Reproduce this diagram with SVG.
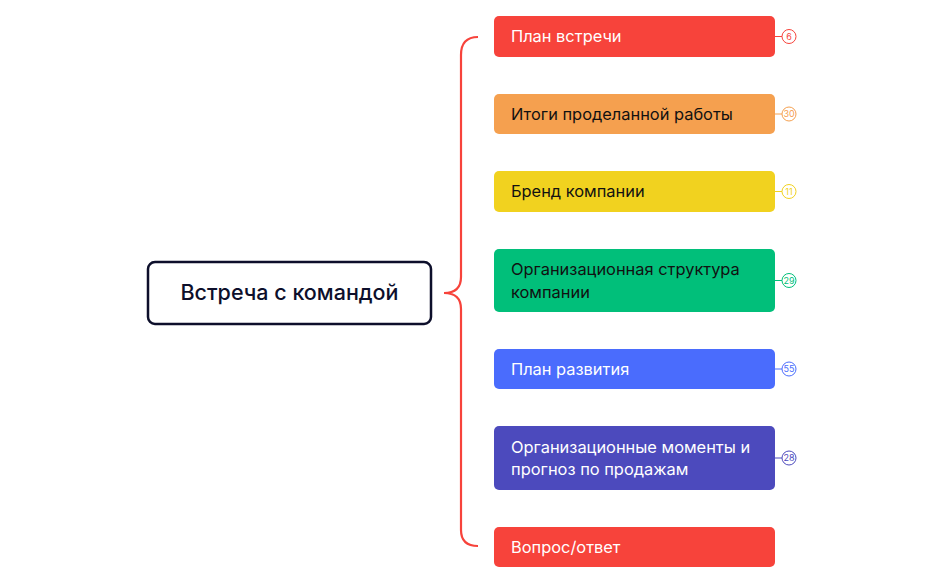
<svg xmlns="http://www.w3.org/2000/svg" width="943" height="584" viewBox="0 0 943 584">
<style>
.t{font-family:Inter,"Liberation Sans",sans-serif;font-size:16.4px}
.n{font-family:Inter,"Liberation Sans",sans-serif;font-size:9px;text-anchor:middle}
.c{fill:#fff;stroke-width:1}
</style>
<rect width="943" height="584" fill="#fff"/>
<g id="connectors" fill="none" stroke="#f7433b" stroke-width="2.2">
<path d="M478 37 Q461 37 461 55 L461 277 Q461 293 444 293 Q461 293 461 309 L461 530 Q461 546 478 546"/>
</g>
<g id="root"><rect x="148" y="262" width="283" height="62" rx="7" fill="#fff" stroke="#0d0f2b" stroke-width="2.5"/>
<text x="289.5" y="300" text-anchor="middle" fill="#0d0f2b" style="font-family:Inter,'Liberation Sans',sans-serif;font-size:21.5px;font-weight:500">Встреча с командой</text></g>
<g id="n1"><rect x="494" y="16" width="281" height="41" rx="5" fill="#f7433b"/><text x="511" y="42" class="t" fill="#fff">План встречи</text>
<line x1="775" y1="36.5" x2="782" y2="36.5" stroke="#f7433b"/><circle cx="789" cy="36.5" r="7" class="c" stroke="#f7433b"/><text x="789" y="39.5" class="n" fill="#f7433b">6</text></g>
<g id="n2"><rect x="494" y="94" width="281" height="40" rx="5" fill="#f5a04f"/><text x="511" y="120" class="t" fill="#111">Итоги проделанной работы</text>
<line x1="775" y1="114" x2="782" y2="114" stroke="#f5a04f"/><circle cx="789" cy="114" r="7" class="c" stroke="#f5a04f"/><text x="789" y="117" class="n" fill="#f5a04f">30</text></g>
<g id="n3"><rect x="494" y="171" width="281" height="41" rx="5" fill="#f1d21f"/><text x="511" y="197" class="t" fill="#111">Бренд компании</text>
<line x1="775" y1="191.5" x2="782" y2="191.5" stroke="#f1d21f"/><circle cx="789" cy="191.5" r="7" class="c" stroke="#f1d21f"/><text x="789" y="194.5" class="n" fill="#f1d21f">11</text></g>
<g id="n4"><rect x="494" y="249" width="281" height="63" rx="5" fill="#01bf7a"/><text x="511" y="275" class="t" fill="#111">Организационная структура</text><text x="511" y="298" class="t" fill="#111">компании</text>
<line x1="775" y1="280.5" x2="782" y2="280.5" stroke="#01bf7a"/><circle cx="789" cy="280.5" r="7" class="c" stroke="#01bf7a"/><text x="789" y="283.5" class="n" fill="#01bf7a">29</text></g>
<g id="n5"><rect x="494" y="349" width="281" height="40" rx="5" fill="#4a6cfd"/><text x="511" y="375" class="t" fill="#fff">План развития</text>
<line x1="775" y1="369" x2="782" y2="369" stroke="#4a6cfd"/><circle cx="789" cy="369" r="7" class="c" stroke="#4a6cfd"/><text x="789" y="372" class="n" fill="#4a6cfd">55</text></g>
<g id="n6"><rect x="494" y="426" width="281" height="64" rx="5" fill="#4c4abd"/><text x="511" y="453" class="t" fill="#fff">Организационные моменты и</text><text x="511" y="475" class="t" fill="#fff">прогноз по продажам</text>
<line x1="775" y1="458" x2="782" y2="458" stroke="#4c4abd"/><circle cx="789" cy="458" r="7" class="c" stroke="#4c4abd"/><text x="789" y="461" class="n" fill="#4c4abd">28</text></g>
<g id="n7"><rect x="494" y="527" width="281" height="40" rx="5" fill="#f7433b"/><text x="511" y="553" class="t" fill="#fff">Вопрос/ответ</text></g>
</svg>
